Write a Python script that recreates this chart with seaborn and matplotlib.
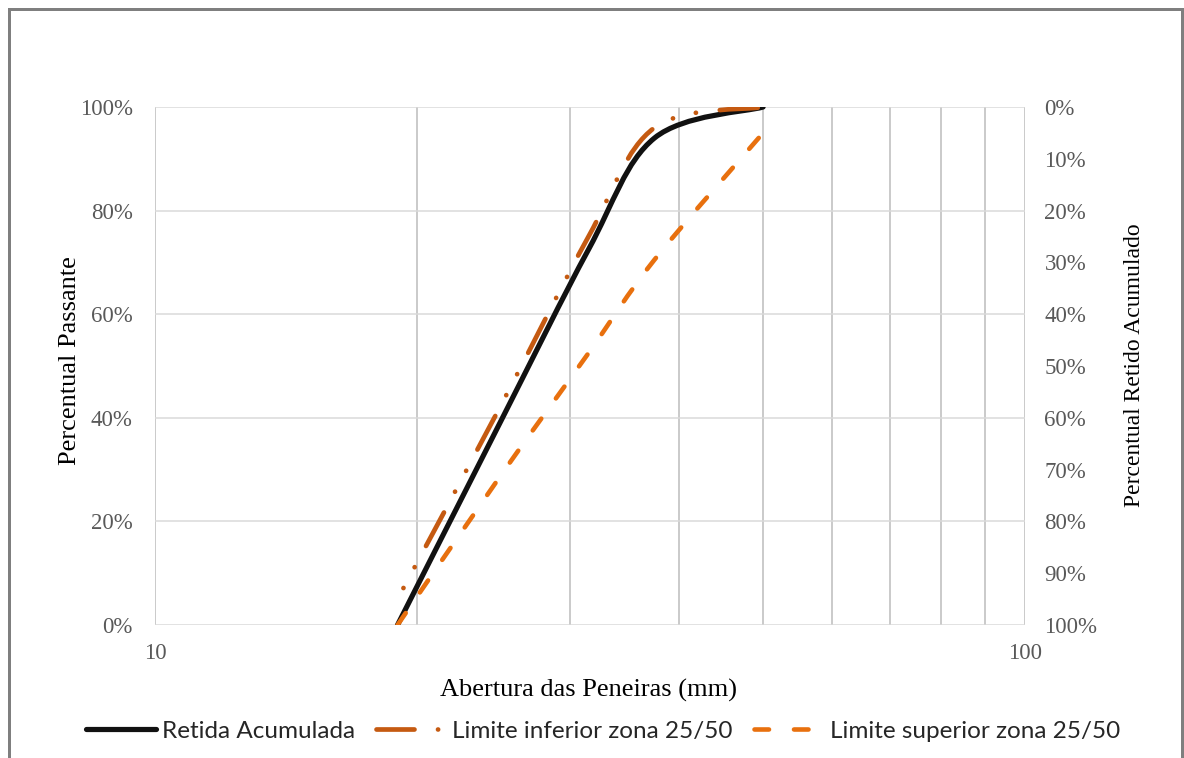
import numpy as np
import matplotlib
matplotlib.use("Agg")
import matplotlib.pyplot as plt
import seaborn as sns
from matplotlib.path import Path
from matplotlib.patches import PathPatch, Rectangle
from matplotlib.lines import Line2D

# ---------------- data ----------------
sieves = [19, 25, 31.5, 37.5, 50]                 # abertura (mm)
retida_acumulada = [0, 39.5, 72.5, 94, 100]        # % passante
limite_inferior = [5, 42.5, 75, 96, 100]           # % passante
limite_superior = [0, 29, 52.5, 70.5, 95]          # % passante

x_ticks = [10, 100]
x_ticklabels = ["10", "100"]
x_minor = [20, 30, 40, 50, 60, 70, 80, 90]
left_ticks = [0, 20, 40, 60, 80, 100]
right_ticks = [0, 10, 20, 30, 40, 50, 60, 70, 80, 90, 100]

series_labels = ["Retida Acumulada", "Limite inferior zona 25/50", "Limite superior zona 25/50"]

# ---------------- style ----------------
sns.set_theme(style="white")
plt.rcParams["font.family"] = ["Liberation Serif", "DejaVu Serif"]
plt.rcParams["lines.scale_dashes"] = False

C_BLACK = "#111111"
C_INF = "#C55A11"
C_SUP = "#E8700E"
TICK_COLOR = "#595959"

PX = 0.72  # points per pixel at dpi 100
TENSION = 1 / 6

fig = plt.figure(figsize=(11.84, 7.58), dpi=100)
W, H = 1184, 758
L, R, T, B = 155, 1025, 107, 625
ax = fig.add_axes([L / W, 1 - B / H, (R - L) / W, (B - T) / H])


def smooth_path(xs, ys, f=TENSION):
    """Excel-like smoothed line: cubic Bezier segments with Catmull-Rom control
    points computed in display-proportional (log x, y) space."""
    pts = np.column_stack([np.log10(np.asarray(xs, float)), np.asarray(ys, float)])
    n = len(pts)
    verts = [pts[0]]
    codes = [Path.MOVETO]
    for i in range(n - 1):
        p0 = pts[max(i - 1, 0)]
        p1 = pts[i]
        p2 = pts[i + 1]
        p3 = pts[min(i + 2, n - 1)]
        c1 = p1 + (p2 - p0) * f
        c2 = p2 - (p3 - p1) * f
        verts += [c1, c2, p2]
        codes += [Path.CURVE4] * 3
    verts = np.array(verts)
    verts[:, 0] = 10 ** verts[:, 0]
    return Path(verts, codes)


dashdot = (38 * PX, 23.5 * PX, 0.1, 23.5 * PX, 0.1, 24 * PX)
styles = [
    dict(color=C_BLACK, lw=5.2 * PX, ls="-"),
    dict(color=C_INF, lw=4.7 * PX, ls=(49 * PX, dashdot)),
    dict(color=C_SUP, lw=4.6 * PX, ls=(0, (14.5 * PX, 25 * PX))),
]
legend_ls = ["-", (0, dashdot), (0, (14.5 * PX, 25 * PX))]
data = [retida_acumulada, limite_inferior, limite_superior]

for k, (yv, st) in enumerate(zip(data, styles)):
    patch = PathPatch(smooth_path(sieves, yv), fill=False, edgecolor=st["color"],
                      linewidth=st["lw"], linestyle=st["ls"], capstyle="round",
                      joinstyle="round", zorder=3 + k)
    ax.add_patch(patch)

ax.set_xscale("log")
ax.set_xlim(10, 100)
ax.set_ylim(0, 100)

ax.set_xticks(x_ticks)
ax.set_xticklabels(x_ticklabels)
ax.set_xticks(x_minor, minor=True)
ax.xaxis.set_minor_formatter(matplotlib.ticker.NullFormatter())
ax.set_yticks(left_ticks)
ax.set_yticklabels([f"{v}%" for v in left_ticks])

ax.tick_params(axis="both", which="both", length=0, labelsize=16.5, labelcolor=TICK_COLOR)
ax.tick_params(axis="y", pad=16)
ax.tick_params(axis="x", pad=13)

ax.set_axisbelow(True)
ax.grid(True, axis="y", which="major", color="#D9D9D9", linewidth=1.5 * PX)
ax.grid(True, axis="x", which="both", color="#BFBFBF", linewidth=1.6 * PX)
for s in ax.spines.values():
    s.set_visible(False)

ax2 = ax.twinx()
ax2.set_ylim(100, 0)
ax2.set_yticks(right_ticks)
ax2.set_yticklabels([f"{v}%" for v in right_ticks])
ax2.tick_params(axis="y", length=0, labelsize=16.5, labelcolor=TICK_COLOR, pad=14)
for s in ax2.spines.values():
    s.set_visible(False)
ax2.grid(False)

# axis titles
fig.text(70 / W, 1 - 361 / H, "Percentual Passante", rotation=90, ha="center", va="center",
         fontsize=19, color="black")
fig.text(1135 / W, 1 - 365 / H, "Percentual Retido Acumulado", rotation=90, ha="center",
         va="center", fontsize=17, color="black")
fig.text(589 / W, 1 - 690 / H, "Abertura das Peneiras (mm)", ha="center", va="center",
         fontsize=19, color="black")

# legend
handles = [Line2D([], [], color=st["color"], lw=st["lw"], ls=lls,
                  solid_capstyle="round", dash_capstyle="round")
           for st, lls in zip(styles, legend_ls)]
fig.legend(handles, series_labels, loc="center", bbox_to_anchor=(603 / W, 1 - 731 / H),
           ncol=3, frameon=False, handlelength=2.9, handletextpad=0.25, columnspacing=0.85,
           prop={"family": ["Lato", "DejaVu Sans"], "size": 17.5})

# outer chart border
fig.patches.append(Rectangle((9 / W, -0.05), (1182 - 9) / W, 1.05 - 9 / H,
                             transform=fig.transFigure, fill=False,
                             edgecolor="#7F7F7F", linewidth=3 * PX))

fig.savefig("out.png", dpi=100)
